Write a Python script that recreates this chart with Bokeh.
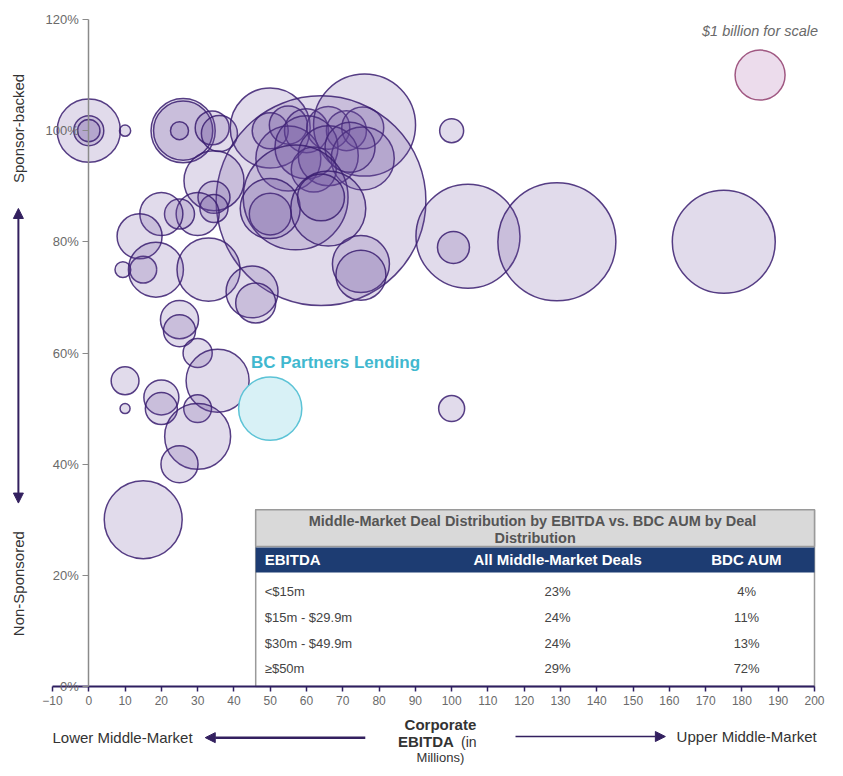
import numpy as np
from bokeh.plotting import figure
from bokeh.models import (ColumnDataSource, LinearAxis, FixedTicker, PrintfTickFormatter,
                          Label, Arrow, NormalHead, Range1d)
from bokeh.core.properties import value
from bokeh.embed import file_html
from bokeh.resources import INLINE

# ---------------- data ----------------
# BDC bubbles: corporate EBITDA ($m), % sponsor-backed, AUM ($m)
bdc_ebitda = [0, 0, 0, 10, 26, 26, 25, 34, 36, 50, 50, 55, 60, 66, 71, 75.5, 76, 100,
              55, 60, 66, 75.5, 72, 62,
              64, 57, 50, 50, 66, 64,
              34.5, 34.5, 34.5, 30, 25, 20, 14, 9.4, 15, 18.5, 33, 45, 46, 75, 75,
              25, 25, 30, 35.5, 10, 10, 20, 20, 30, 30, 25, 15,
              104.5, 100.5, 129, 175, 100]
bdc_sponsored = [100, 100, 100, 100, 100, 100, 100, 100.5, 99.5, 100.5, 100, 101, 100, 100.5, 100, 100.5, 101, 100,
                 95, 97, 95.5, 95, 97, 93,
                 87.4, 88, 85, 86, 86, 88,
                 91, 88, 86, 85, 85, 85, 81, 75, 75, 75, 75, 71, 69, 76, 74,
                 66, 64, 60, 55, 55, 50, 52, 50, 50, 45, 40, 30,
                 81, 79, 80, 80, 50]
bdc_aum = [1600, 360, 200, 50, 1650, 1400, 130, 460, 520, 2560, 520, 580, 775, 740, 640, 705, 4160, 230,
           1690, 1590, 1440, 1590, 1000, 810,
           17600, 4400, 700, 1440, 2250, 880,
           1440, 410, 315, 740, 360, 740, 810, 100, 290, 1210, 1590, 1080, 640, 1300, 1000,
           580, 410, 340, 1590, 310, 40, 490, 410, 310, 1740, 550, 2430,
           4330, 410, 5570, 4240, 270]

scale_ebitda, scale_sponsored, scale_aum = [185], [110], [1000]
bcp_ebitda, bcp_sponsored, bcp_aum = [50], [50], [1600]

x_ticks = list(range(-10, 201, 10))
y_ticks = [0, 20, 40, 60, 80, 100, 120]

table_title_lines = ["Middle-Market Deal Distribution by EBITDA  vs. BDC AUM by Deal",
                     "Distribution"]
table_headers = ["EBITDA", "All Middle-Market Deals", "BDC AUM"]
ebitda_bands = ["<$15m", "$15m - $29.9m", "$30m - $49.9m", "\u2265$50m"]
all_deals_share = ["23%", "24%", "24%", "29%"]
bdc_aum_share = ["4%", "11%", "13%", "72%"]

# ---------------- geometry ----------------
FONT = "Liberation Sans"
PX_PER_BILLION = 50.0
W, H = 835, 768
# pixel positions of the axis extremes inside the canvas
PX_XMIN, PX_XMAX, PX_Y0, PX_Y120 = 52, 814, 686, 19
sx = (PX_XMAX - PX_XMIN) / 210.0
sy = (PX_Y0 - PX_Y120) / 120.0
x_lo = -10 - PX_XMIN / sx
x_hi = -10 + (W - PX_XMIN) / sx
y_hi = PX_Y0 / sy
y_lo = -(H - PX_Y0) / sy


def diam(aum):
    return PX_PER_BILLION * np.sqrt(np.asarray(aum, dtype=float) / 1000.0)


p = figure(width=W, height=H, x_range=Range1d(x_lo, x_hi), y_range=Range1d(y_lo, y_hi),
           output_backend="svg", toolbar_location=None, title=None,
           x_axis_location=None, y_axis_location=None, min_border=0)
p.grid.visible = False
p.outline_line_color = None
p.background_fill_color = "white"
p.border_fill_color = "white"

# x axis (inside the frame at y = 0)
xa = LinearAxis(fixed_location=0, bounds=(-10, 200), ticker=FixedTicker(ticks=x_ticks))
xa.axis_line_color = "#2e1f60"
xa.axis_line_width = 2
xa.major_tick_line_color = "#2e1f60"
xa.major_tick_line_width = 1.5
xa.major_tick_out = 5
xa.major_tick_in = 0
xa.minor_tick_line_color = None
xa.major_label_text_font = FONT
xa.major_label_text_font_size = "12px"
xa.major_label_text_color = "#6a6a6a"
xa.major_label_standoff = 4
p.add_layout(xa, "below")

# y axis (inside the frame at x = 0)
ya = LinearAxis(fixed_location=0, bounds=(0, 120), ticker=FixedTicker(ticks=y_ticks),
                formatter=PrintfTickFormatter(format="%d%%"))
ya.axis_line_color = "#8a8a8a"
ya.axis_line_width = 1.5
ya.major_tick_line_color = "#8a8a8a"
ya.major_tick_out = 6
ya.major_tick_in = 0
ya.minor_tick_line_color = None
ya.major_label_text_font = FONT
ya.major_label_text_font_size = "13px"
ya.major_label_text_color = "#6a6a6a"
ya.major_label_standoff = 4
p.add_layout(ya, "left")

# bubbles
src = ColumnDataSource(dict(x=bdc_ebitda, y=bdc_sponsored, s=diam(bdc_aum)))
p.scatter("x", "y", size="s", source=src, fill_color="#6a4c9c", fill_alpha=0.2,
          line_color="#3a1d70", line_width=1.5, line_alpha=0.85)

p.scatter(scale_ebitda, scale_sponsored, size=diam(scale_aum), fill_color="#ecdcec",
          line_color="#a05882", line_width=1.5)
p.scatter(bcp_ebitda, bcp_sponsored, size=diam(bcp_aum), fill_color="#d8f1f6",
          line_color="#5cc3d6", line_width=1.5)

p.add_layout(Label(x=68, y=58.3, text="BC Partners Lending", text_font=FONT,
                   text_font_size="17px", text_font_style="bold", text_color="#41b8cf",
                   text_align="center", text_baseline="middle"))
p.add_layout(Label(x=185, y=118, text="$1 billion for scale", text_font=FONT,
                   text_font_size="14.5px", text_font_style="italic", text_color="#6a6a6a",
                   text_align="center", text_baseline="middle"))

# ---------------- table ----------------
t_left, t_right, t_top = 46, 200, 31.8
title_bottom, head_bottom = 25.2, 20.5
p.quad(left=[t_left], right=[t_right], top=[t_top], bottom=[0], fill_color="white",
       line_color="#9a9a9a", line_width=1.5)
p.quad(left=[t_left], right=[t_right], top=[t_top], bottom=[title_bottom],
       fill_color="#d9d9d9", line_color="#9a9a9a", line_width=1.5)
p.quad(left=[t_left], right=[t_right], top=[title_bottom - 0.2], bottom=[head_bottom],
       fill_color="#1d3c72", line_color=None)

title_src = ColumnDataSource(dict(x=[123, 123], y=[29.7, 26.8], t=table_title_lines))
p.text("x", "y", text="t", source=title_src, text_font=value(FONT), text_font_size="14.5px",
       text_font_style="bold", text_color="#555555", text_align="center", text_baseline="middle")

head_x = [48.5, 129.2, 181.3]
head_align = ["left", "center", "center"]
head_src = ColumnDataSource(dict(x=head_x, y=[22.85] * 3, t=table_headers, a=head_align))
p.text("x", "y", text="t", source=head_src, text_font=value(FONT), text_font_size="15px",
       text_font_style="bold", text_color="white", text_align="a", text_baseline="middle")

row_y = [17.1 - 4.65 * i for i in range(len(ebitda_bands))]
for xs, vals, al in ((head_x[0], ebitda_bands, "left"),
                     (head_x[1], all_deals_share, "center"),
                     (head_x[2], bdc_aum_share, "center")):
    p.text(x=[xs] * len(vals), y=row_y, text=vals, text_font=value(FONT),
           text_font_size="13px", text_color="#444444", text_align=al, text_baseline="middle")

# ---------------- outer annotations ----------------
DARK = "#33205f"


def head():
    return NormalHead(size=10, fill_color=DARK, line_color=DARK)


p.add_layout(Label(x=-19.4, y=100.4, text="Sponsor-backed", angle=np.pi / 2, text_font=FONT,
                   text_font_size="15px", text_color="#333333", text_align="center",
                   text_baseline="middle"))
p.add_layout(Label(x=-19.4, y=18.5, text="Non-Sponsored", angle=np.pi / 2, text_font=FONT,
                   text_font_size="15px", text_color="#333333", text_align="center",
                   text_baseline="middle"))
p.add_layout(Arrow(x_start=-19.4, y_start=60, x_end=-19.4, y_end=86, line_color=DARK,
                   line_width=2, end=head()))
p.add_layout(Arrow(x_start=-19.4, y_start=60, x_end=-19.4, y_end=33, line_color=DARK,
                   line_width=2, end=head()))

p.add_layout(Label(x=-10, y=-9.2, text="Lower Middle-Market", text_font=FONT,
                   text_font_size="15px", text_color="#333333", text_align="left",
                   text_baseline="middle"))
p.add_layout(Label(x=162, y=-9.0, text="Upper Middle-Market", text_font=FONT,
                   text_font_size="15px", text_color="#333333", text_align="left",
                   text_baseline="middle"))
p.add_layout(Arrow(x_start=76.2, y_start=-9.2, x_end=32.1, y_end=-9.2, line_color=DARK,
                   line_width=2.5, end=head()))
p.add_layout(Arrow(x_start=117.6, y_start=-9.0, x_end=158.9, y_end=-9.0, line_color=DARK,
                   line_width=1.5, end=head()))

p.add_layout(Label(x=96.9, y=-6.85, text="Corporate", text_font=FONT, text_font_size="15px",
                   text_font_style="bold", text_color="#333333", text_align="center",
                   text_baseline="middle"))
p.add_layout(Label(x=100.6, y=-9.9, text="EBITDA", text_font=FONT, text_font_size="15px",
                   text_font_style="bold", text_color="#333333", text_align="right",
                   text_baseline="middle"))
p.add_layout(Label(x=102.6, y=-9.9, text="(in", text_font=FONT, text_font_size="14px",
                   text_color="#333333", text_align="left", text_baseline="middle"))
p.add_layout(Label(x=96.9, y=-12.8, text="Millions)", text_font=FONT, text_font_size="13px",
                   text_color="#333333", text_align="center", text_baseline="middle"))

open("out.html", "w").write(file_html(p, INLINE))
